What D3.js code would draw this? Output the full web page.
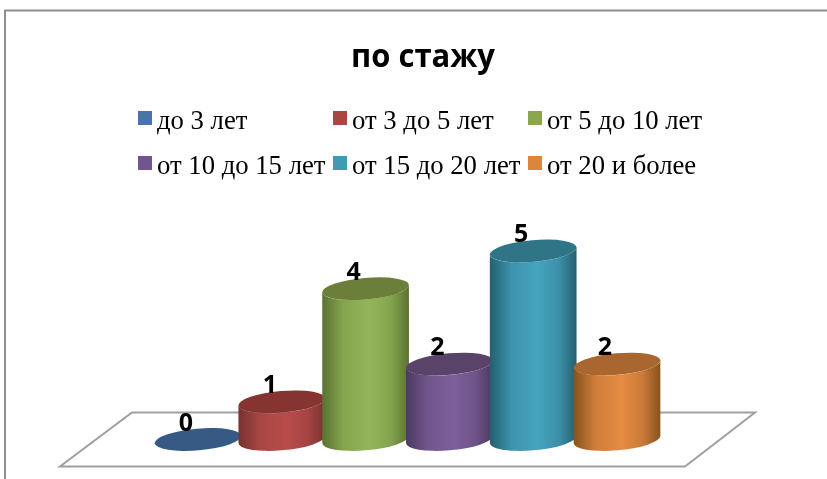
<!DOCTYPE html>
<style>
  html, body { margin: 0; padding: 0; background: #fff; }
  svg { display: block; filter: blur(0.35px); }
  .title { font: bold 33px "Open Sans", sans-serif; text-anchor: middle; }
  .legend text { font: 26.7px "Liberation Serif", serif; }
  .val { font: bold 25px "Open Sans", sans-serif; text-anchor: middle; }
</style>
<body>
</body>
<script src="https://d3js.org/d3.v7.min.js"></script>
<script>
  const title = 'по стажу';
  const categories = ['до 3 лет', 'от 3 до 5 лет', 'от 5 до 10 лет', 'от 10 до 15 лет', 'от 15 до 20 лет', 'от 20 и более'];
  const values = [0, 1, 4, 2, 5, 2];
  const swatchColors = ['#4674ab', '#aa4644', '#8aa64e', '#70558f', '#3f9ab2', '#de843b'];
  const midColors = ['#4a7ebb', '#b84c4a', '#94b659', '#7e5f9b', '#45a4c0', '#e68b42'];
  const edgeColors = ['#2c4a70', '#773230', '#5a7231', '#4a3a60', '#245f70', '#87521f'];
  const topColors = ['#375a84', '#853432', '#6b7f3b', '#5a4369', '#307587', '#a9672f'];

  const w = 827, h = 479;
  const rx = 43.5, ry = 10.8, tilt = -5;
  const rad = tilt * Math.PI / 180;
  // where the tilted ellipse reaches its left/right extreme
  const halfW = Math.sqrt(rx * rx * Math.cos(rad) ** 2 + ry * ry * Math.sin(rad) ** 2);
  const edgeDy = (rx * rx - ry * ry) * Math.sin(rad) * Math.cos(rad) / halfW;

  const svg = d3.select('body').append('svg').attr('width', w).attr('height', h);
  const defs = svg.append('defs');

  const xScale = d3.scalePoint().domain(categories).range([198, 617]);
  const yScale = d3.scaleLinear().domain([0, 5]).range([439.5, 251]);

  // outer frame, cut off by the picture on the right and bottom
  svg.append('path')
    .attr('d', `M5,${h} V10.5 H${w}`)
    .attr('fill', 'none')
    .attr('stroke', '#8e8e8e')
    .attr('stroke-width', 2);

  svg.append('text').attr('class', 'title')
    .attr('transform', 'translate(423, 67) scale(0.94, 1)')
    .text(title);

  // legend
  const legendX = d3.scaleOrdinal().domain([0, 1, 2]).range([138, 333, 528]);
  const legendY = d3.scaleOrdinal().domain([0, 1]).range([111, 156]);
  const legend = svg.append('g').attr('class', 'legend')
    .selectAll('g')
    .data(categories)
    .join('g')
    .attr('transform', (d, i) => `translate(${legendX(i % 3)}, ${legendY(Math.floor(i / 3))})`);
  legend.append('rect')
    .attr('width', 14).attr('height', 14)
    .attr('fill', (d, i) => swatchColors[i]);
  legend.append('text')
    .attr('x', 19).attr('y', 18)
    .text(d => d);

  // floor
  svg.append('path')
    .attr('d', d3.line()([[132, 412.5], [755, 412.5], [685, 466.5], [60, 466.5]]) + 'Z')
    .attr('fill', '#fff')
    .attr('stroke', '#a0a0a0')
    .attr('stroke-width', 2);

  midColors.forEach((c, i) => {
    const g = defs.append('linearGradient').attr('id', `cyl${i}`);
    g.append('stop').attr('offset', '0%').attr('stop-color', edgeColors[i]);
    g.append('stop').attr('offset', '25%').attr('stop-color', d3.interpolateRgb(edgeColors[i], c)(0.75));
    g.append('stop').attr('offset', '55%').attr('stop-color', c);
    g.append('stop').attr('offset', '80%').attr('stop-color', d3.interpolateRgb(edgeColors[i], c)(0.7));
    g.append('stop').attr('offset', '100%').attr('stop-color', edgeColors[i]);
  });

  const bodyPath = d => {
    const x = xScale(d.cat), y0 = yScale(0), y1 = yScale(d.value);
    const lx = x - halfW, rxx = x + halfW;
    return `M${lx},${y1 - edgeDy} L${lx},${y0 - edgeDy}` +
      `A${rx},${ry} ${tilt} 0 0 ${rxx},${y0 + edgeDy}` +
      `L${rxx},${y1 + edgeDy}` +
      `A${rx},${ry} ${tilt} 0 1 ${lx},${y1 - edgeDy}Z`;
  };

  const data = categories.map((cat, i) => ({cat, value: values[i], i}));

  const bars = svg.append('g').selectAll('g').data(data).join('g');
  bars.filter(d => d.value > 0).append('path')
    .attr('d', bodyPath)
    .attr('fill', d => `url(#cyl${d.i})`);
  bars.append('ellipse')
    .attr('rx', rx).attr('ry', ry)
    .attr('transform', d => `translate(${xScale(d.cat)}, ${yScale(d.value)}) rotate(${tilt})`)
    .attr('fill', d => topColors[d.i]);

  // value labels sit left of the cylinder centre
  svg.append('g').selectAll('text').data(data).join('text')
    .attr('class', 'val')
    .attr('x', d => xScale(d.cat) - 12)
    .attr('y', d => yScale(d.value) - 9)
    .text(d => d.value);
</script>
